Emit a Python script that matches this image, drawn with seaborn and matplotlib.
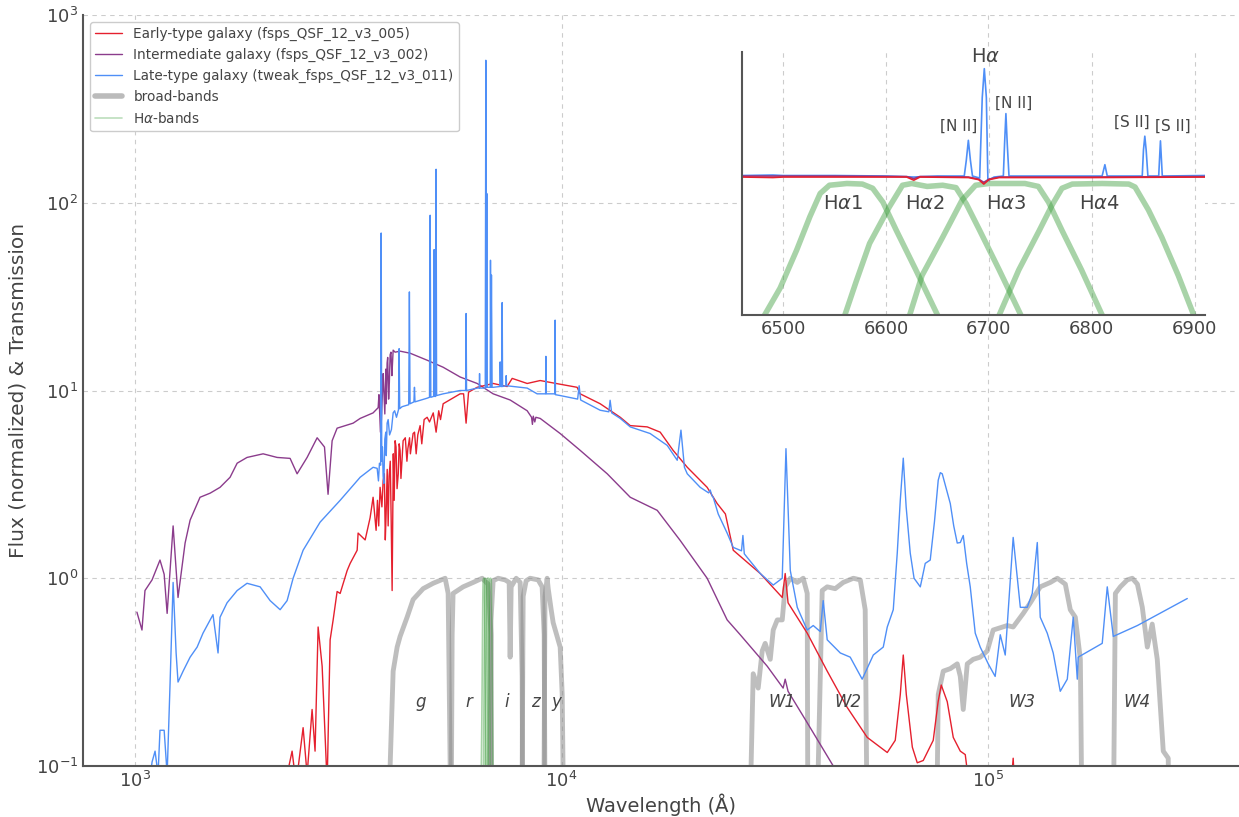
import matplotlib
matplotlib.use("Agg")
import matplotlib.pyplot as plt
import pandas as pd
import seaborn as sns
from matplotlib.lines import Line2D

# ---------------- data (wavelength in Angstrom, normalized flux / transmission) -------------
EARLY = [(2272, 0.09), (2334, 0.12), (2385, 0.08), (2477, 0.16), (2531, 0.09), (2600, 0.20), (2642, 0.12),
         (2686, 0.55), (2745, 0.34), (2820, 0.08), (2866, 0.47), (2913, 0.60), (2976, 0.85), (3025, 0.83),
         (3142, 1.10), (3193, 1.20), (3316, 1.41), (3333, 1.74), (3462, 1.60), (3556, 2.10), (3614, 2.70),
         (3673, 1.80), (3700, 2.6), (3725, 1.9), (3753, 3.05), (3790, 2.4), (3815, 3.30), (3840, 3.6),
         (3860, 1.6), (3877, 2.20), (3900, 3.8), (3920, 1.9), (3940, 3.50), (3965, 4.2), (3985, 2.0),
         (4005, 0.86), (4030, 4.6), (4050, 2.6), (4070, 5.40), (4090, 5.0), (4113, 3.00), (4140, 3.6),
         (4160, 5.2), (4181, 4.80), (4200, 3.4), (4250, 5.40), (4300, 5.6), (4338, 4.20), (4360, 4.9),
         (4400, 5.60), (4420, 4.6), (4485, 5.90), (4520, 6.0), (4560, 4.60), (4600, 5.8), (4658, 6.50),
         (4700, 5.2), (4760, 7.0), (4838, 7.20), (4900, 6.8), (5000, 7.60), (5078, 6.00), (5150, 7.8),
         (5200, 7.0), (5275, 8.50), (5781, 9.60), (5890, 9.60), (5970, 6.70), (6050, 9.80), (6338, 10.4),
         (6909, 10.9), (7452, 10.5), (7656, 11.6), (8302, 10.9), (8906, 11.3), (9920, 10.8), (10870, 10.4),
         (11050, 9.6), (12310, 8.5), (13720, 7.2), (14480, 6.5), (15870, 6.4), (17020, 6.0), (18250, 4.8),
         (19700, 3.9), (21930, 3.05), (23150, 2.5), (24200, 2.2), (25250, 1.41), (29210, 1.06),
         (32890, 0.79), (33420, 1.06), (33940, 0.74), (37640, 0.51), (41930, 0.32), (46710, 0.205),
         (52040, 0.142), (57980, 0.118), (60530, 0.137), (62200, 0.24), (63210, 0.39), (64260, 0.24),
         (66380, 0.126), (68170, 0.104), (70410, 0.107), (74310, 0.137), (76300, 0.22), (77590, 0.27),
         (80150, 0.22), (82790, 0.142), (85990, 0.12), (88330, 0.115), (89800, 0.085), (100000, 0.07),
         (112000, 0.06), (114400, 0.11), (116000, 0.06), (130000, 0.05)]

INTERMEDIATE = [(1010, 0.66), (1038, 0.53), (1055, 0.86), (1096, 0.98), (1144, 1.25), (1170, 1.05), (1189, 0.65),
                (1228, 1.9), (1261, 0.79), (1310, 1.54), (1346, 2.04), (1420, 2.7), (1500, 2.84), (1582, 3.05),
                (1670, 3.45), (1735, 4.1), (1830, 4.4), (1996, 4.6), (2153, 4.4), (2309, 4.35), (2398, 3.6),
                (2531, 4.4), (2672, 5.6), (2780, 5.0), (2834, 2.8), (2897, 5.4), (2976, 6.3), (3245, 6.7),
                (3370, 7.1), (3614, 7.6), (3714, 8.1), (3730, 9.5), (3760, 6.0), (3780, 7.0), (3815, 12.3),
                (3830, 10.0), (3850, 7.5), (3870, 13.0), (3880, 8.5), (3898, 14.0), (3910, 15.0), (3930, 9.0),
                (3945, 11.0), (3962, 15.5), (3980, 16.0), (4000, 12.0), (4010, 13.5), (4027, 16.4),
                (4070, 16.0), (4181, 16.2), (4413, 15.8), (4838, 14.5), (5275, 13.3), (5781, 11.8),
                (6338, 10.9), (6909, 9.6), (7573, 8.9), (8302, 7.8), (8500, 7.2), (8540, 6.6), (8580, 7.3),
                (8650, 6.8), (8700, 7.2), (8906, 7.1), (9920, 5.9), (11050, 4.8), (12790, 3.6), (14480, 2.7),
                (16750, 2.3), (18960, 1.59), (21930, 1.0), (24430, 0.6), (26220, 0.5), (30330, 0.34),
                (33050, 0.26), (33420, 0.29), (33940, 0.25), (37640, 0.17), (43320, 0.1), (45000, 0.085)]

LATE = [(1073, 0.07), (1096, 0.105), (1114, 0.12), (1132, 0.09), (1144, 0.155), (1170, 0.155), (1189, 0.09),
        (1208, 0.276), (1228, 0.95), (1248, 0.40), (1261, 0.28), (1296, 0.32), (1346, 0.38), (1398, 0.43),
        (1443, 0.51), (1523, 0.64), (1565, 0.40), (1582, 0.62), (1643, 0.74), (1735, 0.86), (1830, 0.94),
        (1964, 0.90), (2073, 0.76), (2188, 0.68), (2272, 0.76), (2347, 1.0), (2477, 1.41), (2715, 1.99),
        (3025, 2.6), (3370, 3.45), (3614, 3.9), (3694, 3.85), (3720, 3.3), (3740, 4.1), (3765, 4.0),
        (3775, 69), (3787, 4.2), (3800, 5.0), (3815, 3.5), (3830, 3.2), (3850, 5.5), (3870, 6.0),
        (3880, 4.5), (3898, 6.7), (3920, 7.0), (3950, 5.8), (3990, 6.2), (4027, 7.6), (4060, 7.8),
        (4100, 7.2), (4145, 7.9), (4159, 16.7), (4172, 8.0), (4227, 8.2), (4380, 8.4), (4396, 33.5),
        (4412, 8.5), (4505, 8.7), (4518, 10.4), (4531, 8.7), (4838, 9.1), (4900, 9.2), (4918, 85.8),
        (4935, 9.2), (5010, 9.3), (5024, 56.3), (5040, 9.3), (5065, 9.3), (5078, 150.8), (5092, 9.4),
        (5275, 9.6), (5781, 10.0), (5955, 10.0), (5970, 25.7), (5985, 10.0), (6338, 10.3), (6408, 10.3),
        (6420, 12.3), (6432, 10.3), (6620, 10.3), (6641, 574), (6660, 10.4), (6676, 112), (6690, 10.4),
        (6800, 10.4), (6810, 49.4), (6825, 10.4), (6846, 41.2), (6870, 10.4), (6909, 10.4), (7160, 10.5),
        (7176, 14.2), (7200, 10.5), (7240, 10.5), (7254, 29.4), (7270, 10.5), (7400, 10.6), (7413, 12.0),
        (7430, 10.6), (8302, 10.3), (8759, 9.6), (9170, 9.6), (9184, 15.2), (9200, 9.6), (9552, 9.6),
        (9640, 9.6), (9655, 23.7), (9670, 9.5), (9920, 9.4), (10640, 9.1), (10900, 9.0), (10990, 10.6),
        (11080, 8.9), (12310, 7.85), (12900, 7.7), (12990, 8.87), (13100, 7.6), (13720, 7.1), (14480, 6.4),
        (16120, 5.9), (17680, 5.1), (18660, 4.25), (19040, 6.15), (19400, 3.9), (19700, 3.6), (21120, 3.05),
        (22100, 2.85), (22300, 2.95), (22500, 2.75), (22660, 2.7), (23280, 2.2), (24430, 1.74),
        (25250, 1.46), (26400, 1.4), (26600, 1.69), (26800, 1.35), (27230, 1.29), (29210, 1.06),
        (31330, 0.92), (32890, 1.0), (33560, 4.9), (34350, 1.1), (35670, 0.70), (37640, 0.53),
        (38880, 0.56), (40380, 0.52), (41030, 0.76), (41930, 0.47), (44990, 0.40), (47470, 0.38),
        (50640, 0.29), (53770, 0.39), (56740, 0.43), (57980, 0.55), (59890, 0.68), (61190, 1.36),
        (62200, 2.6), (63210, 4.36), (64200, 2.4), (65640, 1.36), (67000, 1.0), (69300, 0.9), (71170, 1.2),
        (73110, 1.25), (74800, 2.0), (76340, 3.33), (77200, 3.65), (78010, 3.6), (79700, 3.0),
        (81470, 2.5), (83000, 1.9), (84590, 1.54), (86000, 1.55), (87380, 1.69), (89000, 1.2),
        (90740, 0.9), (93220, 0.51), (95760, 0.43), (100000, 0.35), (103800, 0.30), (106700, 0.50),
        (109600, 0.39), (114400, 1.65), (118900, 0.70), (123400, 0.70), (126800, 0.83), (130300, 1.55),
        (132400, 0.62), (137500, 0.51), (142000, 0.40), (147500, 0.25), (153200, 0.29), (158200, 0.62),
        (161700, 0.29), (162500, 0.38), (185000, 0.45), (190100, 0.90), (196400, 0.49), (223700, 0.56),
        (292800, 0.78)]

BAND_G = [(3940, 0.01), (3962, 0.1), (4027, 0.32), (4115, 0.43), (4181, 0.49), (4342, 0.62), (4485, 0.77),
          (4734, 0.88), (4997, 0.94), (5332, 1.0), (5419, 0.83), (5478, 0.1), (5510, 0.01)]
BAND_R = [(5490, 0.01), (5537, 0.5), (5565, 0.83), (5875, 0.9), (6202, 0.95), (6511, 1.0), (6725, 0.93),
          (6830, 0.5), (6871, 0.01)]
BAND_I = [(6762, 0.01), (6830, 0.6), (6909, 0.97), (7097, 1.0), (7372, 0.98), (7533, 0.95), (7573, 0.38),
          (7614, 0.9), (7824, 1.0), (7994, 0.95), (8080, 0.3), (8124, 0.01)]
BAND_Z = [(8037, 0.01), (8124, 0.8), (8256, 0.97), (8436, 1.0), (8808, 0.98), (9000, 0.9), (9100, 0.5),
          (9177, 0.01)]
BAND_Y = [(9045, 0.01), (9140, 0.8), (9246, 1.0), (9300, 0.88), (9450, 0.68), (9552, 0.58), (9920, 0.43),
          (10030, 0.24), (10190, 0.01)]
BAND_W1 = [(27670, 0.01), (27800, 0.1), (28120, 0.31), (28890, 0.26), (29520, 0.41), (30000, 0.45),
           (30830, 0.37), (31330, 0.53), (32020, 0.6), (32890, 0.6), (33420, 0.9), (34350, 1.0),
           (35670, 0.95), (36830, 1.0), (37640, 0.83), (37840, 0.01)]
BAND_W2 = [(39720, 0.01), (39950, 0.1), (40810, 0.86), (41930, 0.9), (43770, 0.88), (45710, 0.95),
           (48270, 1.0), (50120, 0.98), (51470, 0.68), (52310, 0.01)]
BAND_W3 = [(75100, 0.01), (76340, 0.24), (78440, 0.32), (81470, 0.33), (84590, 0.35), (85990, 0.3),
           (87380, 0.2), (89290, 0.35), (92210, 0.37), (95760, 0.38), (99470, 0.41), (102700, 0.53),
           (110800, 0.56), (114400, 0.55), (120800, 0.65), (125500, 0.74), (132400, 0.9), (139800, 0.95),
           (145200, 1.0), (151600, 0.93), (155700, 0.68), (160000, 0.62), (164400, 0.37), (167000, 0.01)]
BAND_W4 = [(195300, 0.01), (198600, 0.83), (204000, 0.9), (211800, 0.98), (217600, 1.0), (223700, 0.93),
           (229700, 0.7), (236000, 0.43), (242300, 0.57), (249000, 0.37), (257200, 0.12), (264200, 0.11),
           (267100, 0.01)]
BROAD_BANDS = [BAND_G, BAND_R, BAND_I, BAND_Z, BAND_Y, BAND_W1, BAND_W2, BAND_W3, BAND_W4]
BAND_NAMES = ["g", "r", "i", "z", "y", "W1", "W2", "W3", "W4"]
BAND_LABEL_WAVE = [4683, 6069, 7452, 8667, 9708, 32890, 46960, 120100, 223700]

HA1 = [(6470, 0.05), (6482, 0.1), (6497, 0.16), (6513, 0.31), (6526, 0.56), (6536, 0.84), (6545, 0.97),
       (6562, 1.0), (6577, 0.99), (6587, 0.92), (6597, 0.72), (6610, 0.44), (6629, 0.22), (6650, 0.1),
       (6662, 0.05)]
HA2 = [(6548, 0.05), (6560, 0.1), (6571, 0.18), (6584, 0.35), (6603, 0.66), (6616, 0.97), (6625, 1.0),
       (6640, 0.95), (6655, 0.97), (6668, 0.93), (6678, 0.70), (6691, 0.44), (6710, 0.22), (6731, 0.1),
       (6743, 0.05)]
HA3 = [(6610, 0.05), (6623, 0.1), (6635, 0.2), (6655, 0.39), (6674, 0.75), (6687, 0.97), (6700, 1.0),
       (6735, 1.0), (6748, 0.95), (6758, 0.72), (6771, 0.44), (6790, 0.22), (6810, 0.1), (6822, 0.05)]
HA4 = [(6698, 0.05), (6710, 0.1), (6729, 0.22), (6749, 0.44), (6762, 0.7), (6771, 0.92), (6781, 0.99),
       (6810, 1.0), (6836, 0.99), (6842, 0.94), (6855, 0.63), (6868, 0.39), (6884, 0.2), (6899, 0.1),
       (6911, 0.05)]
HA_BANDS = [HA1, HA2, HA3, HA4]
HA_NAMES = ["H$\\alpha$1", "H$\\alpha$2", "H$\\alpha$3", "H$\\alpha$4"]
HA_LABEL_WAVE = [6558, 6638, 6717, 6807]

INSET_LATE = [(6460, 1.15), (6490, 1.16), (6500, 1.15), (6550, 1.15), (6600, 1.14), (6627, 1.12),
              (6650, 1.14), (6676, 1.14), (6678, 1.5), (6680, 2.13), (6682, 1.5), (6684, 1.14), (6691, 1.1),
              (6693.5, 4.5), (6695.5, 7.47), (6697.5, 4.5), (6699, 1.05), (6705, 1.12), (6714, 1.14),
              (6715.2, 2.0), (6716.5, 3.4), (6717.8, 2.0), (6719.5, 1.14), (6810, 1.14), (6812.7, 1.39),
              (6815, 1.14), (6849, 1.14), (6850.2, 1.8), (6851.5, 2.29), (6852.8, 1.8), (6854.5, 1.14),
              (6865, 1.14), (6866.7, 2.11), (6868.5, 1.14), (6910, 1.15)]
INSET_EARLY = [(6460, 1.12), (6490, 1.11), (6500, 1.12), (6550, 1.12), (6620, 1.12), (6627, 1.06),
               (6633, 1.12), (6680, 1.11), (6690, 1.07), (6695, 0.99), (6700, 1.07), (6710, 1.11),
               (6800, 1.11), (6910, 1.12)]
INSET_INTER = [(6460, 1.14), (6550, 1.14), (6620, 1.13), (6627, 1.09), (6633, 1.13), (6680, 1.12),
               (6690, 1.08), (6695, 1.02), (6700, 1.08), (6710, 1.12), (6800, 1.12), (6910, 1.13)]
INSET_LINES = [("H$\\alpha$", 6697, 9.3, 14), ("[N II]", 6671, 2.7, 11), ("[N II]", 6724, 4.1, 11),
               ("[S II]", 6839, 2.9, 11), ("[S II]", 6879, 2.7, 11)]

LABELS = ["Early-type galaxy (fsps_QSF_12_v3_005)", "Intermediate galaxy (fsps_QSF_12_v3_002)",
          "Late-type galaxy (tweak_fsps_QSF_12_v3_011)", "broad-bands", "H$\\alpha$-bands"]

# ---------------- style -------------
RED, PURPLE, BLUE = "#e5202e", "#8b3c8c", "#4f8ff7"
GREY, GREEN = "#8a8a8a", "#3f9f3f"
TXT = "#444444"

sns.set_style("white")
plt.rcParams.update({
    "font.family": ["DejaVu Sans"],
    "xtick.direction": "in", "ytick.direction": "in",
    "xtick.color": "#555555", "ytick.color": "#555555",
    "xtick.labelcolor": TXT, "ytick.labelcolor": TXT,
    "axes.edgecolor": "#555555", "axes.labelcolor": TXT, "text.color": TXT,
    "xtick.major.size": 6, "ytick.major.size": 6, "xtick.minor.size": 3, "ytick.minor.size": 3,
    "xtick.major.width": 1.0, "ytick.major.width": 1.0,
})


def draw(ax, pairs, color, lw, alpha=1.0, z=2):
    df = pd.DataFrame(pairs, columns=["wave", "flux"])
    sns.lineplot(data=df, x="wave", y="flux", ax=ax, color=color, lw=lw, alpha=alpha,
                 estimator=None, sort=True, legend=False, zorder=z)


fig = plt.figure(figsize=(12.39, 8.17), dpi=100)
ax = fig.add_axes([83 / 1239, 51 / 817, 1155 / 1239, 751 / 817])
ax.set_xscale("log")
ax.set_yscale("log")

for band in BROAD_BANDS:
    draw(ax, band, GREY, 3.5, alpha=0.55, z=1)
for band in HA_BANDS:
    draw(ax, band, GREEN, 1.2, alpha=0.45, z=1.5)
draw(ax, INTERMEDIATE, PURPLE, 1.0, z=2)
draw(ax, LATE, BLUE, 1.0, z=2.2)
draw(ax, EARLY, RED, 1.0, z=2.1)

for name, wl in zip(BAND_NAMES, BAND_LABEL_WAVE):
    ax.text(wl, 0.218, name, style="italic", ha="center", va="center", fontsize=12, color=TXT)

ax.set_xlim(755, 3.85e5)
ax.set_ylim(0.1, 1000)
ax.set_xlabel("Wavelength (Å)", fontsize=14, labelpad=2)
ax.set_ylabel("Flux (normalized) & Transmission", fontsize=14.5, labelpad=6)
ax.tick_params(axis="both", which="major", labelsize=13)
ax.grid(True, which="major", ls=(0, (4, 4)), color="#cccccc", lw=0.8)
ax.set_axisbelow(True)
for s in ["top", "right"]:
    ax.spines[s].set_visible(False)
for s in ["left", "bottom"]:
    ax.spines[s].set_linewidth(1.5)

handles = [Line2D([], [], color=RED, lw=1.0), Line2D([], [], color=PURPLE, lw=1.0),
           Line2D([], [], color=BLUE, lw=1.0), Line2D([], [], color="#bbbbbb", lw=4),
           Line2D([], [], color=GREEN, lw=1.2, alpha=0.35)]
leg = ax.legend(handles, LABELS, loc="upper left", fontsize=9.8, frameon=True, fancybox=True,
                edgecolor="#cccccc", framealpha=1.0, handlelength=2.0, borderaxespad=0.5)
for t in leg.get_texts():
    t.set_color(TXT)

# ---------------- inset -------------
axi = fig.add_axes([742 / 1239, 502 / 817, 463 / 1239, 263 / 817])
axi.set_facecolor("white")
axi.set_yscale("log")
for band in HA_BANDS:
    draw(axi, band, GREEN, 4, alpha=0.45, z=1)
draw(axi, INSET_LATE, BLUE, 1.2, z=2)
draw(axi, INSET_INTER, PURPLE, 1.2, z=2.1)
draw(axi, INSET_EARLY, RED, 1.2, z=2.2)
for name, wl in zip(HA_NAMES, HA_LABEL_WAVE):
    axi.text(wl, 0.71, name, ha="center", va="center", fontsize=14, color=TXT)
for txt, wl, yv, fs in INSET_LINES:
    axi.text(wl, yv, txt, ha="center", va="center", fontsize=fs, color=TXT, clip_on=False)
axi.set_xlim(6460, 6910)
axi.set_ylim(0.1, 10)
axi.set_xticks([6500, 6600, 6700, 6800, 6900])
axi.tick_params(axis="x", labelsize=13)
axi.tick_params(axis="y", which="both", labelleft=False)
axi.set_xlabel("")
axi.set_ylabel("")
axi.grid(True, axis="x", which="major", ls=(0, (4, 4)), color="#cccccc", lw=0.8)
axi.set_axisbelow(True)
for s in ["top", "right"]:
    axi.spines[s].set_visible(False)
for s in ["left", "bottom"]:
    axi.spines[s].set_linewidth(1.5)

fig.savefig("out.png", dpi=100)
